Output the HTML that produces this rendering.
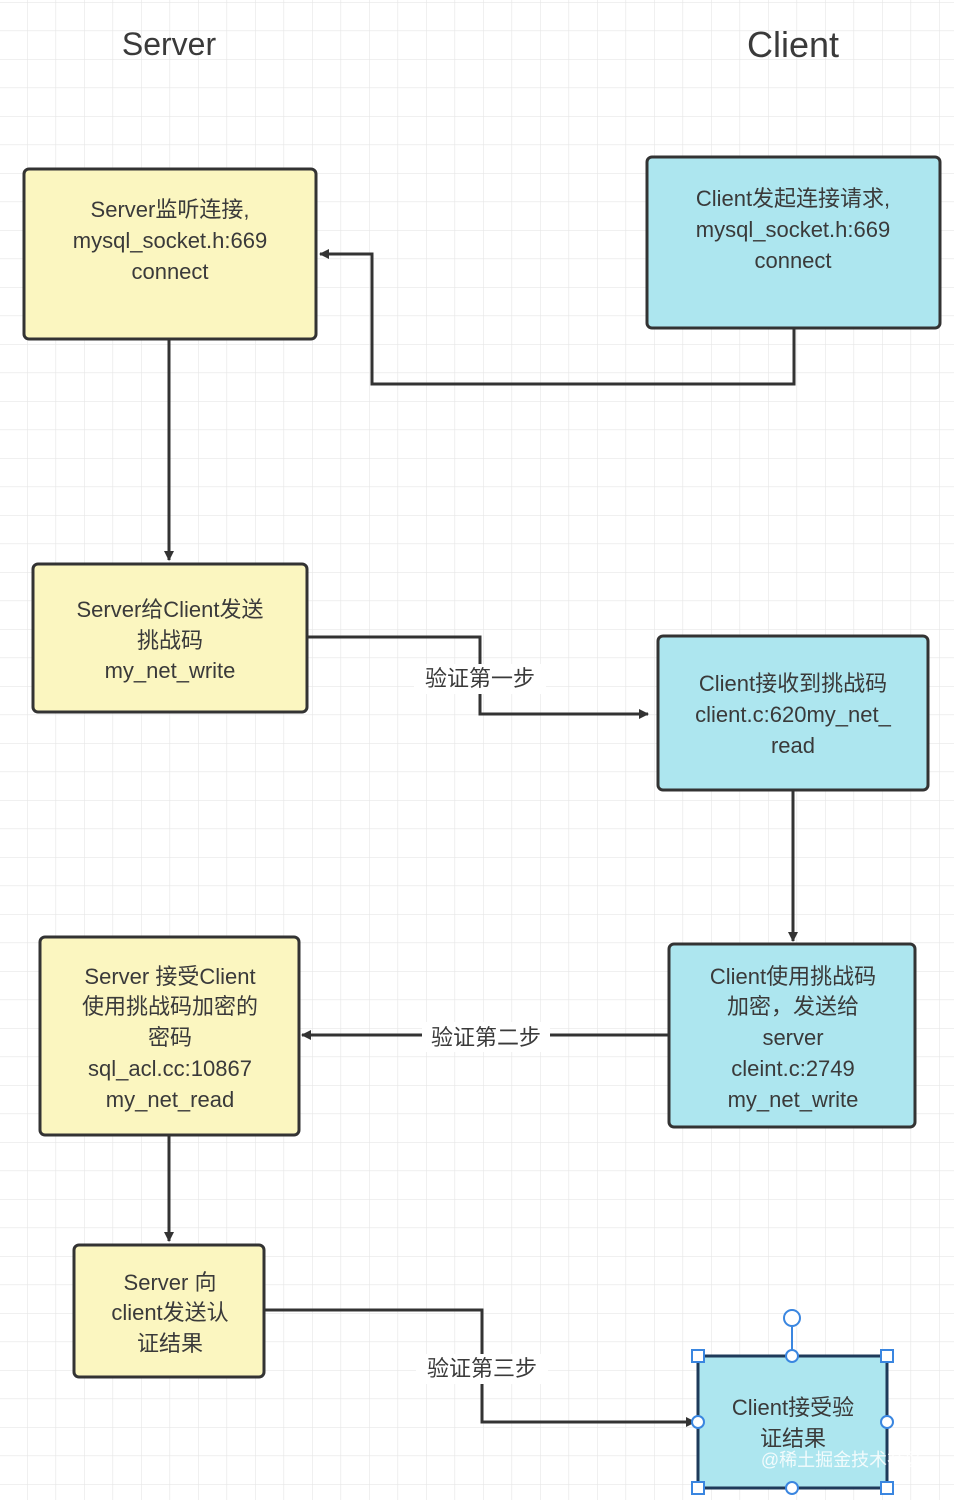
<!DOCTYPE html>
<html><head><meta charset="utf-8"><style>
html,body{margin:0;padding:0;background:#fff}
svg{display:block}
text{font-family:"Liberation Sans","Noto Sans CJK SC",sans-serif;fill:#3a3a3a}
</style></head><body>
<svg width="954" height="1500" viewBox="0 0 954 1500" xmlns="http://www.w3.org/2000/svg">
<defs>
<pattern id="g" x="27" y="2" width="28.5" height="28.5" patternUnits="userSpaceOnUse">
<path d="M0 0V28.5M0 0H28.5" stroke="#e6e6e6" stroke-width="1.2" fill="none"/>
</pattern>
<marker id="a" markerWidth="10" markerHeight="10" refX="9" refY="5" orient="auto" markerUnits="userSpaceOnUse" viewBox="0 0 10 10">
<path d="M0 0L10 5L0 10z" fill="#333"/>
</marker>
</defs>
<rect width="954" height="1500" fill="url(#g)"/>
<text x="169" y="55" font-size="32" text-anchor="middle">Server</text>
<text x="793" y="57" font-size="36" text-anchor="middle">Client</text>

<g stroke="#333" stroke-width="3" fill="none">
<path d="M794 328V384H372V254H320" marker-end="url(#a)" style="--x:0"/>
<path d="M169 339V560" marker-end="url(#a)"/>
<path d="M307 637H480V714H648" marker-end="url(#a)"/>
<path d="M793 790V941" marker-end="url(#a)"/>
<path d="M669 1035H302" marker-end="url(#a)"/>
<path d="M169 1135V1241" marker-end="url(#a)"/>
<path d="M264 1310H482V1422H695" marker-end="url(#a)"/>
</g>
<g stroke="#333" stroke-width="3">
<rect x="24" y="169" width="292" height="170" rx="5" fill="#fbf6c0"/>
<rect x="647" y="157" width="293" height="171" rx="5" fill="#ade6ef"/>
<rect x="33" y="564" width="274" height="148" rx="5" fill="#fbf6c0"/>
<rect x="658" y="636" width="270" height="154" rx="5" fill="#ade6ef"/>
<rect x="40" y="937" width="259" height="198" rx="5" fill="#fbf6c0"/>
<rect x="669" y="944" width="246" height="183" rx="5" fill="#ade6ef"/>
<rect x="74" y="1245" width="190" height="132" rx="5" fill="#fbf6c0"/>
<rect x="698" y="1356" width="189" height="132" fill="#ade6ef" stroke="#1e3a5a"/>
</g>
<g fill="#fff">
<rect x="414" y="664" width="132" height="30"/>
<rect x="422" y="1022" width="128" height="30"/>
<rect x="416" y="1354" width="132" height="30"/>
</g>
<g font-size="22" text-anchor="middle">
<text x="480" y="686">验证第一步</text>
<text x="486" y="1045">验证第二步</text>
<text x="482" y="1376">验证第三步</text>
<text x="170" y="217">Server监听连接,</text>
<text x="170" y="248">mysql_socket.h:669</text>
<text x="170" y="279">connect</text>
<text x="793" y="206">Client发起连接请求,</text>
<text x="793" y="237">mysql_socket.h:669</text>
<text x="793" y="268">connect</text>
<text x="170" y="617">Server给Client发送</text>
<text x="170" y="648">挑战码</text>
<text x="170" y="678">my_net_write</text>
<text x="793" y="691">Client接收到挑战码</text>
<text x="793" y="722">client.c:620my_net_</text>
<text x="793" y="753">read</text>
<text x="170" y="984">Server 接受Client</text>
<text x="170" y="1014">使用挑战码加密的</text>
<text x="170" y="1045">密码</text>
<text x="170" y="1076">sql_acl.cc:10867</text>
<text x="170" y="1107">my_net_read</text>
<text x="793" y="984">Client使用挑战码</text>
<text x="793" y="1014">加密，发送给</text>
<text x="793" y="1045">server</text>
<text x="793" y="1076">cleint.c:2749</text>
<text x="793" y="1107">my_net_write</text>
<text x="170" y="1290">Server 向</text>
<text x="170" y="1320">client发送认</text>
<text x="170" y="1351">证结果</text>
<text x="793" y="1415">Client接受验</text>
<text x="793" y="1446">证结果</text>
</g>
<text x="842" y="1466" font-size="18" text-anchor="middle" fill="#fff" style="fill:#fff;opacity:.85">@稀土掘金技术社区</text>
<g stroke="#3a86e0" stroke-width="2" fill="#fff">
<line x1="792" y1="1327" x2="792" y2="1356"/>
<circle cx="792" cy="1318" r="8"/>
<circle cx="792" cy="1356" r="6"/>
<circle cx="792" cy="1488" r="6"/>
<circle cx="698" cy="1422" r="6"/>
<circle cx="887" cy="1422" r="6"/>
<rect x="692" y="1350" width="12" height="12"/>
<rect x="881" y="1350" width="12" height="12"/>
<rect x="692" y="1482" width="12" height="12"/>
<rect x="881" y="1482" width="12" height="12"/>
</g>
</svg>
</body></html>
